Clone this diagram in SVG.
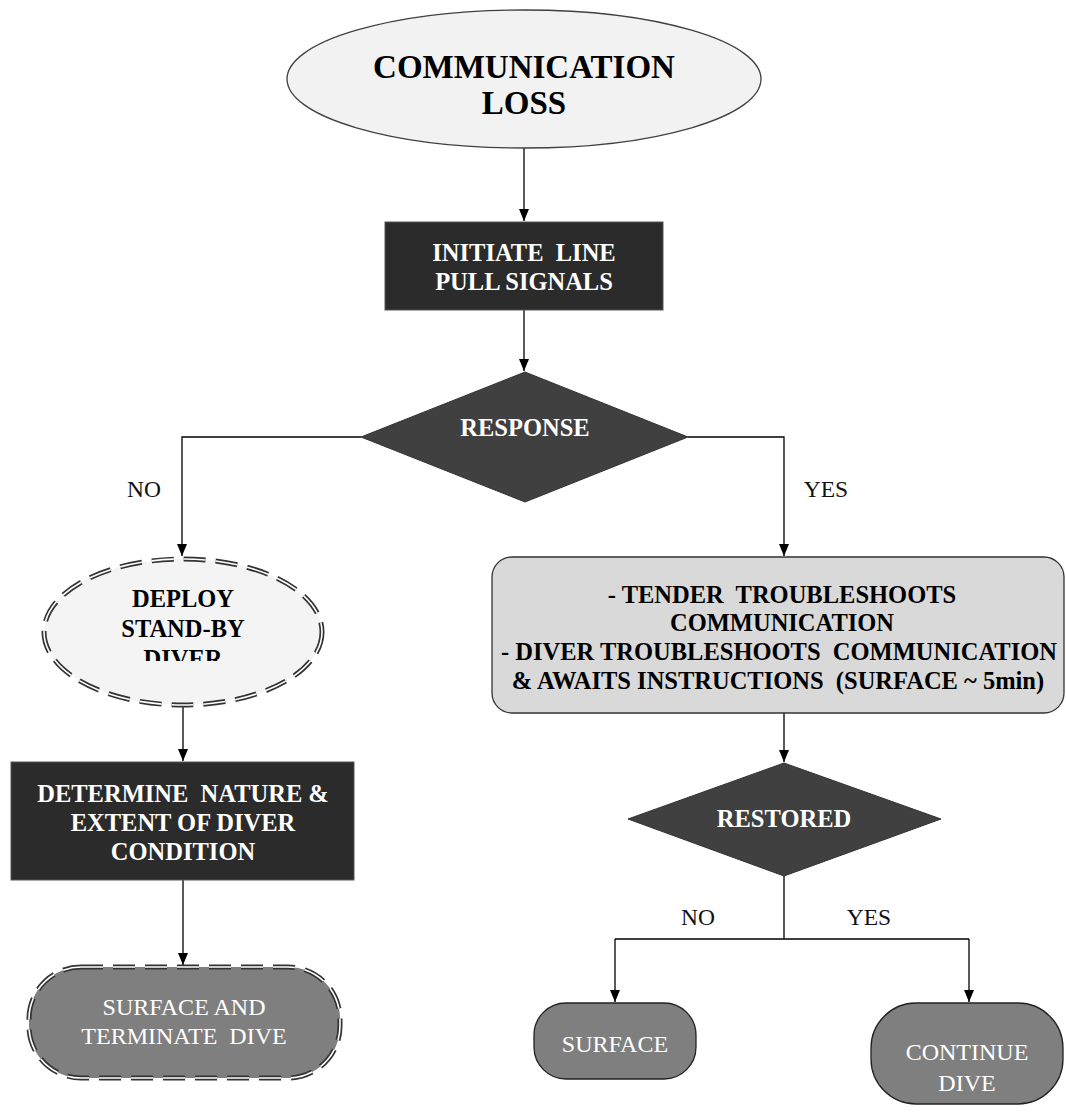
<svg xmlns="http://www.w3.org/2000/svg" width="1066" height="1112" viewBox="0 0 1066 1112">
<defs>
<marker id="arr" markerUnits="userSpaceOnUse" markerWidth="12" markerHeight="12" refX="12" refY="5" orient="auto">
<path d="M0,0 L12,5 L0,10 z" fill="#000"/>
</marker>
<clipPath id="deployClip"><rect x="40" y="555" width="290" height="106"/></clipPath>
</defs>
<style>
.t{font-family:"Liberation Serif","Times New Roman",serif;text-anchor:middle;white-space:pre}
.b{font-weight:bold;font-size:24.5px}
.w{fill:#fff}
.k{fill:#000}
.r{font-weight:normal;font-size:24px}
.lbl{font-family:"Liberation Serif","Times New Roman",serif;font-size:23.5px;text-anchor:middle;fill:#111}
.con{fill:none;stroke:#000;stroke-width:1.3}
.dash1{fill:none;stroke:#333;stroke-width:5;stroke-dasharray:22 10}
.dash2{fill:none;stroke:#fff;stroke-width:1.6;stroke-dasharray:22 10}
</style>
<rect width="1066" height="1112" fill="#fff"/>

<g id="connectors">
<path class="con" d="M524,148 V221" marker-end="url(#arr)"/>
<path class="con" d="M524,310 V371" marker-end="url(#arr)"/>
<path class="con" d="M361,437 H182 V556" marker-end="url(#arr)"/>
<path class="con" d="M688,437 H784 V556" marker-end="url(#arr)"/>
<path class="con" d="M183,706 V761" marker-end="url(#arr)"/>
<path class="con" d="M183,880 V965" marker-end="url(#arr)"/>
<path class="con" d="M784,713 V762" marker-end="url(#arr)"/>
<path class="con" d="M784,876 V939 M615,939 H969"/>
<path class="con" d="M615,939 V1002" marker-end="url(#arr)"/>
<path class="con" d="M969,939 V1002" marker-end="url(#arr)"/>
<text class="lbl" x="144" y="497">NO</text>
<text class="lbl" x="826" y="497">YES</text>
<text class="lbl" x="698" y="925">NO</text>
<text class="lbl" x="869" y="925">YES</text>
</g>

<g id="comm-loss">
<ellipse cx="524" cy="79" rx="237" ry="69" fill="#f2f2f2" stroke="#404040" stroke-width="1.3"/>
<text class="t k" x="524" y="78" style="font-weight:bold;font-size:33px">COMMUNICATION</text>
<text class="t k" x="524" y="114" style="font-weight:bold;font-size:33px">LOSS</text>
</g>

<g id="initiate">
<rect x="385" y="222" width="278" height="88" fill="#2b2b2b" stroke="#555" stroke-width="1"/>
<text class="t b w" x="524" y="261">INITIATE  LINE</text>
<text class="t b w" x="524" y="290">PULL SIGNALS</text>
</g>

<g id="response">
<polygon points="525,372 688,437 525,502 361,437" fill="#404040" stroke="#333" stroke-width="1"/>
<text class="t b w" x="525" y="436">RESPONSE</text>
</g>

<g id="deploy">
<ellipse cx="183" cy="632" rx="139" ry="73" fill="#f4f4f4"/>
<ellipse class="dash1" cx="183" cy="632" rx="139" ry="73"/>
<ellipse class="dash2" cx="183" cy="632" rx="139" ry="73"/>
<g clip-path="url(#deployClip)">
<text class="t b k" x="183" y="607">DEPLOY</text>
<text class="t b k" x="183" y="637">STAND-BY</text>
<text class="t b k" x="183" y="667">DIVER</text>
</g>
</g>

<g id="determine">
<rect x="11" y="762" width="343" height="118" fill="#2b2b2b" stroke="#555" stroke-width="1"/>
<text class="t b w" x="183" y="802">DETERMINE  NATURE &amp;</text>
<text class="t b w" x="183" y="831">EXTENT OF DIVER</text>
<text class="t b w" x="183" y="860">CONDITION</text>
</g>

<g id="surface-terminate">
<rect x="29" y="967" width="311" height="111" rx="52" fill="#7f7f7f"/>
<rect class="dash1" x="29" y="967" width="311" height="111" rx="52"/>
<rect class="dash2" x="29" y="967" width="311" height="111" rx="52"/>
<text class="t r w" x="184" y="1015">SURFACE AND</text>
<text class="t r w" x="184" y="1044">TERMINATE  DIVE</text>
</g>

<g id="troubleshoot">
<rect x="492" y="557" width="572" height="156" rx="20" fill="#d9d9d9" stroke="#333" stroke-width="1.3"/>
<text class="t b k" x="782" y="603">- TENDER  TROUBLESHOOTS</text>
<text class="t b k" x="782" y="631">COMMUNICATION</text>
<text class="t b k" x="779" y="660">- DIVER TROUBLESHOOTS  COMMUNICATION</text>
<text class="t b k" x="778" y="689">&amp; AWAITS INSTRUCTIONS  (SURFACE ~ 5min)</text>
</g>

<g id="restored">
<polygon points="784,763 941,819 784,876 628,819" fill="#404040" stroke="#333" stroke-width="1"/>
<text class="t b w" x="784" y="827">RESTORED</text>
</g>

<g id="surface">
<rect x="534" y="1003" width="162" height="76" rx="32" fill="#7f7f7f" stroke="#222" stroke-width="1.3"/>
<text class="t r w" x="615" y="1052">SURFACE</text>
</g>

<g id="continue">
<rect x="871" y="1003" width="192" height="101" rx="45" fill="#7f7f7f" stroke="#222" stroke-width="1.3"/>
<text class="t r w" x="967" y="1060">CONTINUE</text>
<text class="t r w" x="967" y="1091">DIVE</text>
</g>
</svg>
